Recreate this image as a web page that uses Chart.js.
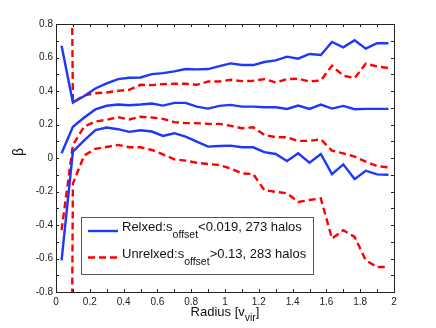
<!DOCTYPE html>
<html>
<head>
<meta charset="utf-8">
<script src="https://cdn.jsdelivr.net/npm/chart.js@4"></script>
<style>
  html, body { margin: 0; padding: 0; background: #fff; }
  #wrap { width: 436px; height: 328px; position: relative; }
</style>
</head>
<body>
<div id="wrap"><canvas id="c" width="436" height="328"></canvas></div>
<script>
// Radius bins [v_vir]
const radius = [0.033, 0.1, 0.167, 0.233, 0.3, 0.367, 0.433, 0.5, 0.567, 0.633,
                0.7, 0.767, 0.833, 0.9, 0.967, 1.033, 1.1, 1.167, 1.233, 1.3,
                1.367, 1.433, 1.5, 1.567, 1.633, 1.7, 1.767, 1.833, 1.9, 1.967];

// Relaxed halos (solid blue): upper, median, lower
const relaxedUpper = [0.67, 0.331, 0.37, 0.415, 0.445, 0.471, 0.479, 0.481, 0.501, 0.507,
                      0.517, 0.531, 0.529, 0.531, 0.549, 0.565, 0.555, 0.555, 0.573, 0.583,
                      0.605, 0.593, 0.621, 0.615, 0.693, 0.661, 0.703, 0.653, 0.685, 0.685];
const relaxedMedian = [0.028, 0.186, 0.242, 0.29, 0.312, 0.319, 0.315, 0.319, 0.325, 0.313,
                       0.329, 0.329, 0.307, 0.295, 0.311, 0.317, 0.307, 0.307, 0.303, 0.303,
                       0.293, 0.313, 0.293, 0.319, 0.295, 0.311, 0.291, 0.293, 0.293, 0.293];
const relaxedLower = [-0.611, 0.038, 0.105, 0.166, 0.182, 0.172, 0.156, 0.166, 0.158, 0.132,
                      0.148, 0.128, 0.098, 0.068, 0.072, 0.074, 0.064, 0.064, 0.035, 0.024,
                      -0.018, 0.028, -0.028, 0.024, -0.096, -0.038, -0.126, -0.076, -0.098, -0.10];

// Unrelaxed halos (dashed red): upper, median, lower
const unrelaxedUpper = [8, 0.332, 0.374, 0.387, 0.391, 0.401, 0.407, 0.437, 0.435, 0.441,
                        0.443, 0.443, 0.437, 0.457, 0.457, 0.467, 0.459, 0.461, 0.471, 0.451,
                        0.471, 0.473, 0.457, 0.463, 0.551, 0.491, 0.477, 0.563, 0.547, 0.537];
const unrelaxedMedian = [-0.431, 0.078, 0.188, 0.218, 0.228, 0.244, 0.23, 0.246, 0.242, 0.234,
                         0.214, 0.208, 0.208, 0.204, 0.204, 0.192, 0.178, 0.184, 0.138, 0.124,
                         0.124, 0.102, 0.102, 0.112, 0.044, 0.028, 0.008, -0.022, -0.048, -0.056];
const unrelaxedLower = [-11, -0.152, 0.015, 0.055, 0.066, 0.078, 0.064, 0.064, 0.048, 0.022,
                        -0.008, -0.016, -0.028, -0.036, -0.042, -0.062, -0.092, -0.096, -0.192, -0.202,
                        -0.211, -0.262, -0.251, -0.241, -0.481, -0.431, -0.471, -0.611, -0.651, -0.651];

const xTickValues = [0, 0.2, 0.4, 0.6, 0.8, 1, 1.2, 1.4, 1.6, 1.8, 2];
const yTickValues = [-0.8, -0.6, -0.4, -0.2, 0, 0.2, 0.4, 0.6, 0.8];

const legendEntries = [
  { pre: 'Relxed:s', sub: 'offset', post: '<0.019, 273 halos', color: 'rgb(30,55,250)', dash: [] },
  { pre: 'Unrelxed:s', sub: 'offset', post: '>0.13, 283 halos', color: 'rgb(255,0,0)', dash: [7, 4] }
];

const FONT = '"Liberation Sans", Arial, Helvetica, sans-serif';
const BLUE = 'rgb(30,55,250)';
const RED = 'rgb(255,0,0)';
const AXIS = '#222';

function toPts(ys) { return radius.map((x, i) => ({ x: x, y: ys[i] })); }
function mk(ys, color, dash) {
  return {
    data: toPts(ys), borderColor: color, borderWidth: 2.4, borderDash: dash,
    pointRadius: 0, tension: 0, fill: false
  };
}

const decor = {
  id: 'decor',
  afterDatasetsDraw(chart) {
    const ctx = chart.ctx;
    const a = chart.chartArea;
    const xs = chart.scales.x, ys = chart.scales.y;
    ctx.save();
    // box
    ctx.strokeStyle = AXIS;
    ctx.lineWidth = 1;
    ctx.strokeRect(Math.round(a.left) + 0.5, Math.round(a.top) + 0.5,
                   Math.round(a.right - a.left), Math.round(a.bottom - a.top));
    // inward ticks every 0.1 on all four sides
    const tl = 3;
    ctx.beginPath();
    for (let k = 0; k <= 20; k++) {
      const v = k / 10;
      const px = Math.round(xs.getPixelForValue(v)) + 0.5;
      ctx.moveTo(px, a.bottom); ctx.lineTo(px, a.bottom - tl);
      ctx.moveTo(px, a.top); ctx.lineTo(px, a.top + tl);
    }
    for (let k = -8; k <= 8; k++) {
      const v = k / 10;
      const py = Math.round(ys.getPixelForValue(v)) + 0.5;
      ctx.moveTo(a.left, py); ctx.lineTo(a.left + tl, py);
      ctx.moveTo(a.right, py); ctx.lineTo(a.right - tl, py);
    }
    ctx.stroke();

    // legend
    const bx = 81.5, by = 217.5, bw = 232, bh = 57;
    ctx.fillStyle = '#fff';
    ctx.fillRect(bx, by, bw, bh);
    ctx.strokeStyle = '#555';
    ctx.lineWidth = 1;
    ctx.strokeRect(bx, by, bw, bh);
    const rows = [{ ly: 231, base: 231 }, { ly: 257.5, base: 258 }];
    legendEntries.forEach((e, i) => {
      const r = rows[i];
      ctx.strokeStyle = e.color;
      ctx.lineWidth = 2.4;
      ctx.setLineDash(e.dash);
      ctx.beginPath();
      ctx.moveTo(88, r.ly); ctx.lineTo(118, r.ly);
      ctx.stroke();
      ctx.setLineDash([]);
      ctx.fillStyle = '#111';
      ctx.textBaseline = 'alphabetic';
      ctx.textAlign = 'left';
      let x = 122;
      ctx.font = '13px ' + FONT;
      ctx.fillText(e.pre, x, r.base);
      x += ctx.measureText(e.pre).width;
      ctx.font = '10.5px ' + FONT;
      ctx.fillText(e.sub, x, r.base + 6.5);
      x += ctx.measureText(e.sub).width;
      ctx.font = '13px ' + FONT;
      ctx.fillText(e.post, x, r.base);
    });

    // x axis title with subscript
    ctx.fillStyle = '#111';
    ctx.font = '13px ' + FONT;
    const t1 = 'Radius [v', t3 = ']', t2 = 'vir';
    const w1 = ctx.measureText(t1).width, w3 = ctx.measureText(t3).width;
    ctx.font = '10.5px ' + FONT;
    const w2 = ctx.measureText(t2).width;
    const total = w1 + w2 + w3;
    let sx = (a.left + a.right) / 2 - total / 2;
    const base = 315.5;
    ctx.font = '13px ' + FONT;
    ctx.fillText(t1, sx, base);
    ctx.font = '10.5px ' + FONT;
    ctx.fillText(t2, sx + w1, base + 5.5);
    ctx.font = '13px ' + FONT;
    ctx.fillText(t3, sx + w1 + w2, base);

    // y axis title
    ctx.save();
    ctx.translate(19.5, 152);
    ctx.rotate(-Math.PI / 2);
    ctx.font = '14px ' + FONT;
    ctx.textAlign = 'center';
    ctx.textBaseline = 'middle';
    ctx.fillText('\u03B2', 0, 0);
    ctx.restore();

    ctx.restore();
  }
};

new Chart(document.getElementById('c'), {
  type: 'line',
  data: {
    datasets: [
      mk(relaxedUpper, BLUE, []),
      mk(relaxedMedian, BLUE, []),
      mk(relaxedLower, BLUE, []),
      mk(unrelaxedUpper, RED, [7, 4]),
      mk(unrelaxedMedian, RED, [7, 4]),
      mk(unrelaxedLower, RED, [7, 4])
    ]
  },
  options: {
    responsive: false,
    animation: false,
    devicePixelRatio: 1,
    layout: { padding: { left: 0, top: 24, right: 42, bottom: 0 } },
    plugins: { legend: { display: false }, tooltip: { enabled: false }, title: { display: false } },
    scales: {
      x: {
        type: 'linear', min: 0, max: 2,
        afterBuildTicks: (s) => { s.ticks = xTickValues.map(v => ({ value: v })); },
        afterFit: (s) => { s.height = 36; },
        grid: { display: false, drawTicks: false, tickLength: 0 }, border: { display: false },
        ticks: {
          color: '#222', padding: 4, maxRotation: 0, autoSkip: false,
          font: { family: FONT, size: 10 },
          callback: (v) => String(Math.round(v * 10) / 10)
        }
      },
      y: {
        type: 'linear', min: -0.8, max: 0.8,
        afterBuildTicks: (s) => { s.ticks = yTickValues.map(v => ({ value: v })); },
        afterFit: (s) => { s.width = 56; },
        grid: { display: false, drawTicks: false, tickLength: 0 }, border: { display: false },
        ticks: {
          color: '#222', padding: 3, autoSkip: false,
          font: { family: FONT, size: 10 },
          callback: (v) => String(Math.round(v * 10) / 10)
        }
      }
    }
  },
  plugins: [decor]
});
</script>
</body>
</html>
